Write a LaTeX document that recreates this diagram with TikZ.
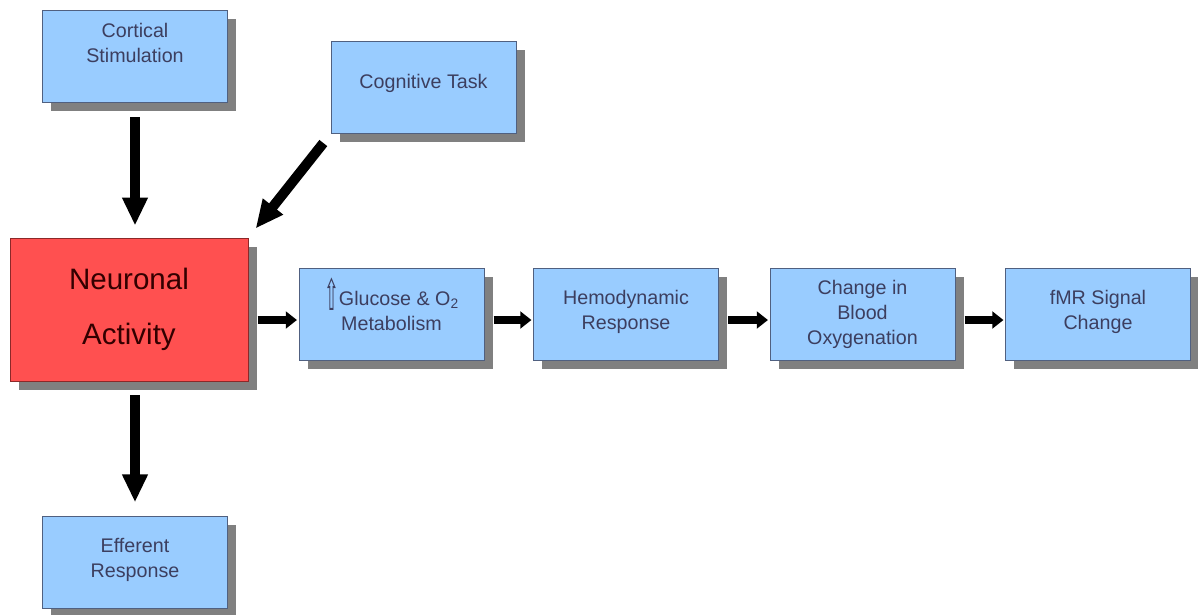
\documentclass[tikz,border=0pt]{standalone}
\usepackage{fontspec}
\setmainfont{Liberation Sans}
\newfontfamily\arrowfont{DejaVu Sans}
\usepackage{xcolor}
\usetikzlibrary{arrows.meta, shadows}
\definecolor{boxblue}{RGB}{153,204,255}
\definecolor{boxedge}{RGB}{80,96,128}
\definecolor{boxred}{RGB}{255,80,80}
\definecolor{rededge}{RGB}{140,40,40}
\definecolor{shadowgray}{RGB}{128,128,128}
\definecolor{textblue}{RGB}{60,62,95}

\tikzset{
  box/.style={rectangle, draw=boxedge, line width=0.6pt, fill=boxblue,
    minimum width=4.625cm, minimum height=2.3cm, inner sep=0pt,
    align=center, text=textblue, font=\fontsize{14}{17.8}\selectfont,
    drop shadow={shadow xshift=0.22cm, shadow yshift=-0.22cm, fill=shadowgray, opacity=1}},
  redbox/.style={box, draw=rededge, fill=boxred, text=black!80!red,
    minimum width=5.95cm, minimum height=3.575cm,
    font=\fontsize{21}{39}\selectfont},
  smallarrow/.style={->, >={Triangle[width=0.42cm, length=0.28cm]}, line width=0.2cm,
    shorten <=0.23cm, shorten >=0.04cm},
  bigarrow/.style={->, >={Triangle[width=0.6cm, length=0.7cm]}, line width=0.25cm}
}

\begin{document}
\begin{tikzpicture}[x=0.025cm, y=-0.025cm, black]
				\useasboundingbox (0,0) rectangle (1198,614);
				\node at (135,56) (cortical) [box, text depth=18pt] {Cortical\\Stimulation};
				\node at (423.5,87.5) (cognitive) [box, text depth=9pt] {Cognitive Task};
				\node at (129,309.5) (neuronal) [redbox] {Neuronal\\Activity};
				\node at (391.5,314) (glucose) [box, text depth=14pt] {\raisebox{-4pt}{\scalebox{0.9}[2.2]{\arrowfont ⇧}}Glucose \& O\textsubscript{2}\\Metabolism};
				\node at (626,314) (hemo) [box, text depth=6pt] {Hemodynamic\\Response};
				\node at (862.5,314) (oxygen) [box] {Change in\\Blood\\Oxygenation};
				\node at (1098,314) (signal) [box, text depth=6pt] {fMR Signal\\Change};
				\node at (135,562) (efferent) [box, text depth=6pt] {Efferent\\Response};
				\draw[bigarrow, shorten <=0.37cm, shorten >=0.3cm] (cortical.south) -- (cortical.south |- neuronal.north);
				\draw[bigarrow, shorten <=0.29cm, shorten >=0.29cm] (cognitive.south west) -- (neuronal.north east);
				\draw[bigarrow, shorten <=0.35cm, shorten >=0.33cm] (efferent.north |- neuronal.south) -- (efferent.north);
				\draw[smallarrow] ([yshift=-0.15cm]neuronal.east |- glucose.west) -- ([yshift=-0.15cm]glucose.west);
				\draw[smallarrow] ([yshift=-0.15cm]glucose.east) -- ([yshift=-0.15cm]hemo.west);
				\draw[smallarrow] ([yshift=-0.15cm]hemo.east) -- ([yshift=-0.15cm]oxygen.west);
				\draw[smallarrow] ([yshift=-0.15cm]oxygen.east) -- ([yshift=-0.15cm]signal.west);
			\end{tikzpicture}
\end{document}
